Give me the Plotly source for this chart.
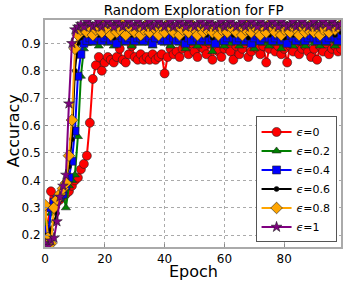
import plotly.graph_objects as go

acc_eps0 = [0.30,0.22,0.36,0.31,0.32,0.33,0.34,0.35,0.36,0.38,0.40,0.41,0.44,0.46,0.49,0.61,0.77,0.82,0.85,0.80,
            0.83,0.85,0.84,0.83,0.85,0.88,0.84,0.83,0.86,0.89,0.85,0.84,0.86,0.84,0.85,0.84,0.86,0.84,0.85,0.86,
            0.79,0.85,0.88,0.86,0.87,0.85,0.88,0.89,0.86,0.90,0.87,0.85,0.89,0.88,0.86,0.90,0.84,0.89,0.87,0.85,
            0.88,0.89,0.87,0.84,0.89,0.86,0.88,0.90,0.85,0.87,0.89,0.88,0.86,0.89,0.83,0.88,0.90,0.87,0.89,0.86,
            0.88,0.83,0.89,0.87,0.90,0.86,0.88,0.89,0.87,0.85,0.88,0.84,0.89,0.87,0.90,0.86,0.88,0.89,0.87,0.88]
acc_eps02 = [0.25,0.20,0.28,0.30,0.33,0.34,0.36,0.30,0.38,0.40,0.42,0.56,0.78,0.88,
             0.90,0.91,0.90,0.91,0.89,0.91,0.92,0.90,0.91,0.89,0.92,0.91,0.90,0.92,0.91,0.89,0.91,0.92,0.90,0.91,
             0.92,0.90,0.89,0.91,0.92,0.91,0.90,0.92,0.89,0.91,0.92,0.90,0.91,0.88,0.92,0.90,0.91,0.89,0.92,0.91,
             0.90,0.92,0.87,0.91,0.90,0.92,0.89,0.91,0.90,0.92,0.91,0.89,0.90,0.92,0.91,0.90,0.88,0.91,0.92,0.90,
             0.91,0.89,0.92,0.90,0.91,0.88,0.92,0.90,0.91,0.89,0.92,0.91,0.90,0.89,0.92,0.91,0.90,0.92,0.89,0.91,
             0.90,0.92,0.91,0.89,0.90,0.91]
acc_eps04 = [0.22,0.18,0.30,0.32,0.33,0.34,0.35,0.38,0.41,0.47,0.58,0.78,0.86,0.90,
             0.91,0.92,0.91,0.93,0.92,0.91,0.92,0.93,0.91,0.92,0.90,0.93,0.92,0.91,0.92,0.93,0.91,0.92,0.92,0.91,
             0.93,0.92,0.90,0.92,0.93,0.91,0.92,0.91,0.93,0.92,0.91,0.92,0.93,0.90,0.92,0.91,0.93,0.92,0.91,0.92,
             0.93,0.91,0.92,0.90,0.93,0.92,0.91,0.92,0.93,0.92,0.91,0.92,0.93,0.91,0.92,0.90,0.92,0.93,0.91,0.92,
             0.93,0.92,0.91,0.92,0.93,0.91,0.92,0.90,0.93,0.92,0.91,0.92,0.93,0.91,0.92,0.93,0.92,0.91,0.92,0.93,
             0.91,0.92,0.93,0.92,0.91,0.93]
acc_eps06 = [0.20,0.17,0.22,0.25,0.28,0.33,0.36,0.40,0.45,0.55,0.80,0.90,0.92,
             0.93,0.94,0.93,0.95,0.94,0.93,0.94,0.95,0.93,0.94,0.92,0.95,0.94,0.93,0.94,0.95,0.93,0.94,0.94,0.92,
             0.95,0.94,0.93,0.94,0.95,0.93,0.94,0.93,0.95,0.94,0.93,0.94,0.95,0.92,0.94,0.93,0.95,0.94,0.93,0.94,
             0.95,0.93,0.94,0.92,0.95,0.94,0.93,0.94,0.95,0.94,0.93,0.94,0.95,0.93,0.94,0.92,0.94,0.95,0.93,0.94,
             0.95,0.94,0.93,0.94,0.95,0.93,0.94,0.92,0.95,0.94,0.93,0.94,0.95,0.93,0.94,0.95,0.94,0.93,0.94,0.95,
             0.93,0.94,0.95,0.94,0.93,0.95,0.94]
acc_eps08 = [0.31,0.19,0.17,0.30,0.33,0.35,0.37,0.39,0.49,0.62,0.88,0.93,0.95,
             0.95,0.94,0.96,0.93,0.95,0.96,0.94,0.97,0.95,0.93,0.96,0.94,0.95,0.97,0.93,0.96,0.95,0.94,0.96,0.93,
             0.95,0.97,0.94,0.96,0.95,0.93,0.96,0.94,0.97,0.95,0.94,0.96,0.93,0.95,0.96,0.94,0.97,0.95,0.93,0.96,
             0.94,0.95,0.97,0.94,0.96,0.93,0.95,0.96,0.94,0.97,0.95,0.94,0.96,0.93,0.95,0.97,0.94,0.96,0.95,0.93,
             0.96,0.94,0.97,0.95,0.94,0.96,0.93,0.95,0.96,0.94,0.97,0.95,0.93,0.96,0.94,0.95,0.97,0.94,0.96,0.93,
             0.95,0.96,0.94,0.97,0.95,0.96,0.97]
acc_eps1 = [0.17,0.16,0.18,0.19,0.25,0.34,0.38,0.42,0.68,0.90,0.95,0.96,
            0.97,0.96,0.98,0.97,0.96,0.97,0.98,0.96,0.97,0.98,0.97,0.96,0.98,0.97,0.96,0.97,0.98,0.97,0.96,0.98,
            0.97,0.96,0.97,0.98,0.96,0.97,0.98,0.97,0.96,0.97,0.98,0.96,0.97,0.98,0.97,0.96,0.98,0.97,0.96,0.97,
            0.98,0.97,0.96,0.98,0.97,0.96,0.97,0.98,0.96,0.97,0.98,0.97,0.96,0.97,0.98,0.96,0.97,0.98,0.97,0.96,
            0.98,0.97,0.96,0.97,0.98,0.97,0.96,0.98,0.97,0.96,0.97,0.98,0.96,0.97,0.98,0.97,0.96,0.97,0.98,0.96,
            0.97,0.98,0.97,0.96,0.98,0.97,0.96,0.97]

series_names = ["<i>ϵ</i>=0", "<i>ϵ</i>=0.2", "<i>ϵ</i>=0.4", "<i>ϵ</i>=0.6", "<i>ϵ</i>=0.8", "<i>ϵ</i>=1"]
series_vals = [acc_eps0, acc_eps02, acc_eps04, acc_eps06, acc_eps08, acc_eps1]
colors = ["#ff0000", "#008000", "#0000ff", "#000000", "#ffa500", "#800080"]
symbols = ["circle", "triangle-up", "square", "circle", "diamond", "star"]
sizes = [9, 8, 8, 5, 9, 8]

xticks = [0, 20, 40, 60, 80]
yticks = [0.2, 0.3, 0.4, 0.5, 0.6, 0.7, 0.8, 0.9]

fig = go.Figure()
for name, vals, c, s, sz in zip(series_names, series_vals, colors, symbols, sizes):
    vals = vals[:100]
    fig.add_trace(go.Scatter(
        x=list(range(len(vals))), y=vals, name=name, mode="lines+markers",
        line=dict(color=c, width=2),
        marker=dict(symbol=s, size=sz, color=c, line=dict(color="#222222", width=0.6)),
    ))

fig.update_layout(
    width=346, height=287,
    margin=dict(l=45, r=5, t=20, b=40, autoexpand=False),
    paper_bgcolor="white", plot_bgcolor="white",
    font=dict(family="DejaVu Sans", size=12, color="black"),
    title=dict(text="Random Exploration for FP", x=0.56, xanchor="center", y=0.965, yanchor="middle",
               font=dict(size=13.5)),
    showlegend=True,
    legend=dict(x=0.985, y=0.02, xanchor="right", yanchor="bottom",
                bgcolor="white", bordercolor="#555555", borderwidth=1,
                font=dict(size=11), itemwidth=30, tracegroupgap=0),
    annotations=[
        dict(text="Epoch", x=0.5, y=-0.106, xref="paper", yref="paper", xanchor="center", yanchor="middle",
             showarrow=False, font=dict(size=16)),
        dict(text="Accuracy", x=-0.108, y=0.51, xref="paper", yref="paper", xanchor="center", yanchor="middle",
             textangle=-90, showarrow=False, font=dict(size=16)),
    ],
)
fig.update_xaxes(range=[0, 99], tickvals=xticks, automargin=False,
                 showgrid=True, gridcolor="#aaaaaa", griddash="dot", gridwidth=1,
                 showline=True, linecolor="#aaaaaa", linewidth=2, mirror=True,
                 ticks="inside", ticklen=3, tickcolor="#888888", zeroline=False)
fig.update_yaxes(range=[0.157, 0.985], tickvals=yticks, tickformat=".1f", automargin=False,
                 showgrid=True, gridcolor="#aaaaaa", griddash="dot", gridwidth=1,
                 showline=True, linecolor="#aaaaaa", linewidth=2, mirror=True,
                 ticks="inside", ticklen=3, tickcolor="#888888", zeroline=False)

fig.write_html("out.html", config={"displayModeBar": False},
               post_script="document.body.style.margin='0';document.body.style.overflow='hidden';")
